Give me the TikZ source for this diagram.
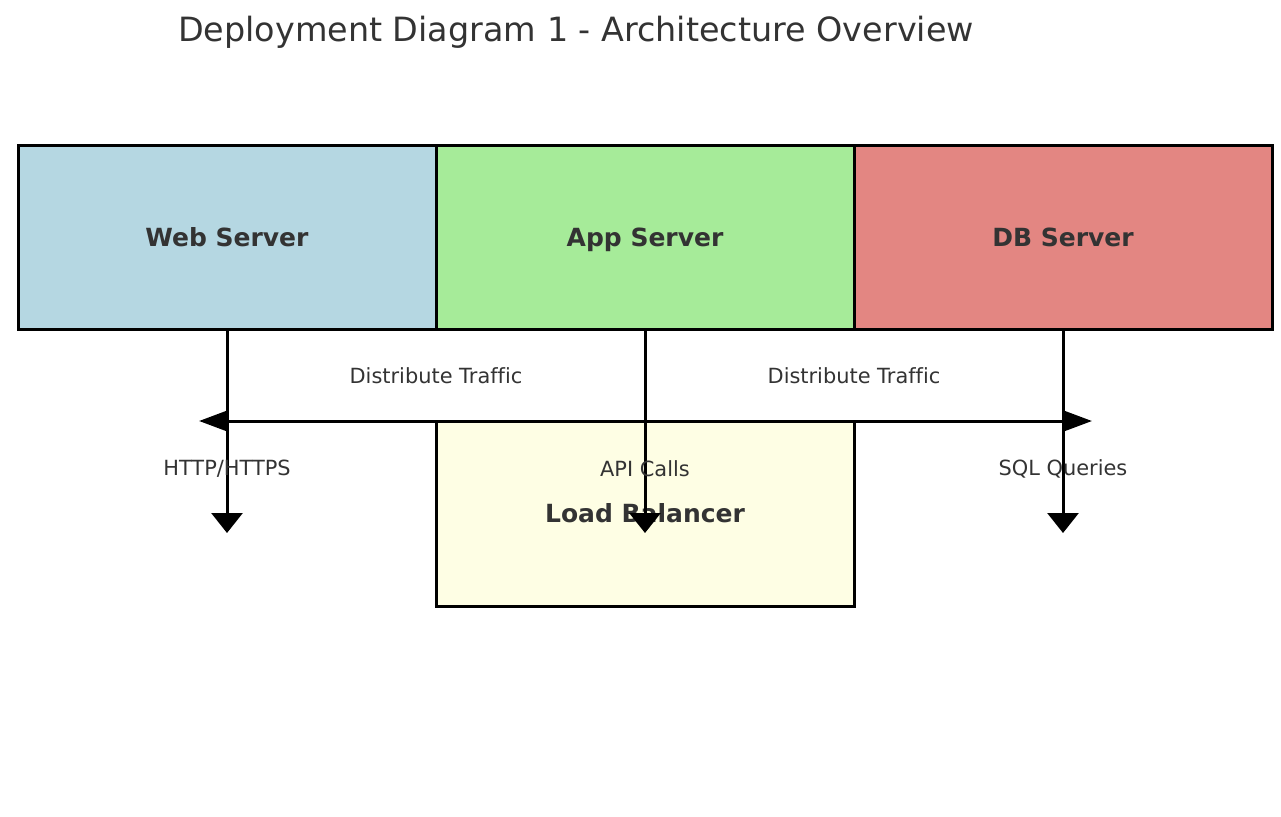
\documentclass[tikz,border=0pt]{standalone}
\usepackage{fontspec}
\setmainfont[Ligatures=NoCommon]{DejaVu Sans}
\usetikzlibrary{positioning,arrows.meta}
\definecolor{texto}{HTML}{333333}
\definecolor{webazul}{HTML}{B5D7E2}
\definecolor{appverde}{HTML}{A6EB99}
\definecolor{dbrojo}{HTML}{E38682}
\definecolor{lbamarillo}{HTML}{FEFEE4}
\begin{document}
\begin{tikzpicture}[x=1pt, y=-1pt, % unidades en pixeles de la imagen
    servidor/.style={draw=black, line width=3pt, rectangle, inner sep=0pt, outer sep=0pt,
        minimum width=418pt, minimum height=184pt, text=texto,
        text height=18pt, text depth=0pt,
        font=\fontsize{25}{30}\selectfont\bfseries},
    etiqueta/.style={text=texto, font=\fontsize{20.9}{24}\selectfont},
    flecha/.style={line width=3pt, -{Triangle[length=20pt, width=31pt]}},
    doble/.style={line width=3pt, {Triangle[length=28pt, width=20pt]}-{Triangle[length=28pt, width=20pt]}}]

    % Fijar el marco de la imagen
    \useasboundingbox (0,0) rectangle (1281,816);

    % 1. Titulo
    \node[text=texto, font=\fontsize{33.4}{38}\selectfont] (titulo) at (576,32) {Deployment Diagram 1 - Architecture Overview};

    % 2. Servidores en fila
    \node[servidor, fill=webazul] (web) at (227,237) {Web Server};
    \node[servidor, fill=appverde, right=0pt of web] (app) {App Server};
    \node[servidor, fill=dbrojo, right=0pt of app] (db) {DB Server};

    % 3. Balanceador de carga debajo del servidor de aplicaciones
    \node[servidor, fill=lbamarillo, minimum height=185pt, below=92pt of app] (lb) {Load Balancer};

    % 4. Extremos de las flechas
    \coordinate (izq) at (199,421);
    \coordinate (der) at (1092,421);
    \foreach \n/\x in {web/227, app/645, db/1063} {
        \coordinate (fin\n) at (\x,533);
    }

    % 5. Flechas verticales y flecha horizontal de trafico
    \foreach \n in {web, app, db} {
        \draw[flecha] (\n.south) -- (fin\n);
    }
    \draw[doble] (izq) -- (der);

    % 6. Etiquetas de las conexiones
    \node[etiqueta] (trafico1) at (436,376) {Distribute Traffic};
    \node[etiqueta] (trafico2) at (854,376) {Distribute Traffic};
    \node[etiqueta] (http) at (227,469) {HTTP/HTTPS};
    \node[etiqueta] (api) at (645,469) {API Calls};
    \node[etiqueta] (sql) at (1063,469) {SQL Queries};

\end{tikzpicture}
\end{document}
